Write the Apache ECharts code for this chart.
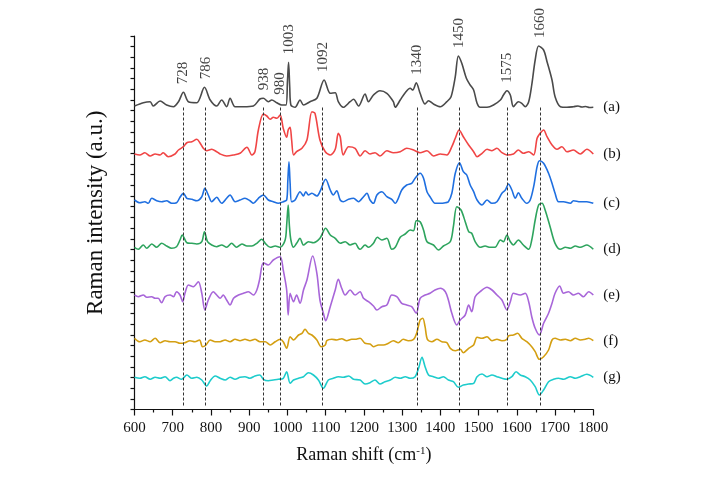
<!DOCTYPE html>
<html>
<head>
<meta charset="utf-8">
<script src="https://cdn.jsdelivr.net/npm/echarts@6/dist/echarts.min.js"></script>
<style>
html, body { margin: 0; padding: 0; background: #fff; }
#chart { width: 718px; height: 486px; }
</style>
</head>
<body>
<div id="chart"></div>
<script>
// Raman shift (cm-1) / intensity pairs, each spectrum relative to its own baseline
var specA = [[600,1],[623,4.3],[641,5.3],[649,1],[667,6],[684,2],[702,0.3],[715,5.3],[728,14.7],[741,5.3],[763,4.3],[783,19.7],[798,7],[815,1],[828,7],[841,0.3],[850,8.7],[863,0.3],[885,0.3],[911,1],[928,8],[937,8.7],[950,5.3],[959,7],[972,4.3],[985,2],[996,2],[1000,25],[1003,44.7],[1006,20],[1009,2],[1020,-0.3],[1033,7],[1042,2],[1059,5.3],[1077,8.7],[1096,27],[1112,13.7],[1125,14.3],[1133,5.3],[1146,-0.3],[1164,5.3],[1173,7.7],[1186,1],[1203,13],[1212,5.3],[1225,12],[1242,16.3],[1260,13.7],[1277,5.3],[1282,-0.3],[1295,7],[1308,14.3],[1321,18.7],[1328,17],[1337,24.3],[1347,13.7],[1360,3],[1369,6.3],[1382,3],[1400,0.3],[1417,5.3],[1428,10.3],[1439,30.3],[1447,51],[1456,43.7],[1468,28.7],[1478,22],[1487,17],[1496,3.7],[1504,-0.3],[1522,-0.3],[1539,2],[1557,7],[1565,12],[1574,16.3],[1583,12],[1591,0.3],[1604,5.3],[1613,3.7],[1622,0.3],[1631,5.3],[1639,22],[1648,47],[1657,61],[1670,57],[1679,45.3],[1692,27],[1700,10.3],[1714,0.3],[1731,-0.3],[1748,0.3],[1760,1],[1770,0],[1780,0.5],[1790,-0.5],[1800,-0.3]];
var specB = [[600,1],[614,0],[627,2.3],[641,-1],[654,1],[667,0],[675,2.3],[688,-1.7],[706,1],[715,5],[728,8.3],[737,12.3],[750,13.3],[763,15.7],[771,12.3],[780,6.7],[789,4.3],[802,5.7],[815,3.3],[824,1],[841,-1],[859,0],[876,1.7],[894,7.7],[907,0],[915,3.3],[924,25],[937,41],[946,39],[955,35.7],[963,37.7],[972,36.7],[981,40],[989,26.7],[998,17.7],[1002,25],[1007,27.7],[1011,15],[1016,0],[1024,3.3],[1038,6.7],[1051,15],[1064,43.3],[1072,41.7],[1085,15],[1099,3.3],[1112,0],[1125,5.7],[1133,21.7],[1138,18.3],[1146,0],[1160,8.3],[1177,6.7],[1190,-1],[1203,4.3],[1216,1],[1229,2.3],[1242,-1],[1260,4.3],[1277,2.3],[1295,3.3],[1312,6.7],[1330,5],[1347,2.3],[1365,4.3],[1382,-1],[1400,1],[1417,0],[1430,8.3],[1439,16.7],[1449,25],[1460,18.3],[1474,10],[1487,3.3],[1496,-1.7],[1509,1.7],[1522,5.7],[1535,4.3],[1548,6.7],[1561,2.3],[1574,0],[1591,1],[1604,5],[1617,1.7],[1631,3.3],[1644,0],[1653,16.7],[1661,21.7],[1670,25],[1679,18.3],[1692,10],[1705,5.7],[1718,8.3],[1731,3.3],[1748,5],[1766,1],[1783,5.7],[1800,1]];
var specC = [[600,1],[614,-1.7],[627,-0.7],[636,-2.3],[645,2.7],[658,0.3],[671,-0.7],[684,0.3],[697,-2.3],[710,-1.7],[719,3.7],[728,7.7],[737,2.7],[750,1.7],[763,0.3],[776,4.3],[784,12.7],[793,6],[802,-0.7],[815,3.7],[828,-2.3],[841,2.7],[850,6],[863,-0.7],[876,1],[889,2.7],[902,0.3],[911,-2.3],[924,2.7],[937,6],[950,1],[963,-0.7],[976,-2.3],[989,-0.7],[998,1],[1001,20],[1004,39.3],[1007,18],[1011,-0.7],[1020,1],[1033,9.3],[1042,5],[1048,9.3],[1055,6],[1064,7.7],[1077,5],[1085,9.3],[1100,21.7],[1112,11],[1120,6],[1129,10.3],[1138,1],[1146,-0.7],[1160,1.7],[1173,2.7],[1186,-0.7],[1199,4.3],[1208,7.7],[1216,1],[1225,-2.3],[1234,6],[1247,9.3],[1260,4.3],[1273,1.7],[1282,-2.3],[1290,2.7],[1299,11],[1312,16],[1325,17.7],[1334,22.7],[1347,27.7],[1356,22.7],[1365,9.3],[1373,4.3],[1386,-2.3],[1400,-2.3],[1413,-1.7],[1421,-0.7],[1430,7.7],[1439,27.7],[1450,38.3],[1460,29.3],[1469,26],[1478,16],[1487,9.3],[1496,1],[1509,-4],[1522,1],[1535,-2.3],[1548,-0.7],[1561,7.7],[1570,11],[1578,17],[1587,11],[1596,2.7],[1604,8.3],[1613,2.7],[1626,-2.3],[1635,1],[1644,14.3],[1653,34.3],[1659,40.3],[1670,37.7],[1683,27.7],[1692,17.7],[1700,7.7],[1709,-0.7],[1722,-0.7],[1740,-2.3],[1748,0.3],[1766,-0.7],[1783,-0.7],[1800,-2.3]];
var specD = [[600,-0.3],[610,-2.3],[623,2],[632,-1.3],[645,3],[658,-0.3],[671,3.7],[684,1],[697,-1.3],[710,0.3],[719,7],[725,12],[737,4.3],[750,3.7],[763,3],[776,5.3],[783,15.3],[791,5.3],[802,2],[815,0.3],[828,2],[841,-0.3],[854,3.7],[867,-0.3],[881,3],[894,1],[907,1],[920,3.7],[933,7.7],[942,3.7],[955,-0.3],[968,1],[981,-0.3],[994,7],[998,22],[1002,42],[1005,22],[1009,7],[1016,-0.3],[1024,3.7],[1033,8.7],[1042,2],[1055,5.3],[1068,4.3],[1085,8.7],[1100,18.7],[1112,12],[1125,8.7],[1138,3.7],[1151,5.3],[1164,2],[1177,3.7],[1186,-1.3],[1190,-2.3],[1203,2],[1212,-0.3],[1225,3.7],[1235,9.7],[1247,7],[1260,8.7],[1273,-2.3],[1282,-0.3],[1295,9.7],[1308,13],[1321,17],[1330,16.3],[1337,26.3],[1347,25.3],[1356,17],[1365,5.3],[1382,2],[1395,-3],[1408,1],[1426,5.3],[1434,20.3],[1443,40.3],[1454,37],[1465,25.3],[1474,15.3],[1482,13.7],[1491,5.3],[1504,-0.3],[1517,1],[1530,-0.3],[1543,-0.3],[1557,7],[1565,5.3],[1574,12],[1583,5.3],[1591,2],[1604,7],[1617,2],[1631,-2.3],[1639,7],[1648,27],[1657,42],[1666,43.7],[1674,37],[1687,20.3],[1700,3.7],[1714,-2.3],[1727,-0.3],[1740,-1.3],[1753,1],[1766,-0.3],[1783,2],[1800,-2.3]];
var specE = [[600,2],[610,0.3],[623,2],[632,-0.3],[645,0.3],[654,-1.3],[662,-1.3],[671,-5.7],[680,0.3],[693,2],[702,0.3],[710,5.3],[719,2],[726,-4.7],[732,3.7],[741,12],[754,10.3],[767,15.3],[776,3.7],[784,-13],[793,-3],[806,5.3],[815,2],[824,-1.3],[832,2],[841,-3],[850,-8],[859,-1.3],[872,2],[885,3.7],[898,5.3],[911,2],[920,7],[927,17],[937,34.3],[950,32],[963,37],[981,40.3],[989,27],[998,7],[1002,-18],[1007,3.7],[1016,-4.7],[1024,2],[1033,-6.3],[1042,7],[1051,17],[1066,41],[1077,23.7],[1085,-3],[1094,-16.3],[1100,-23.7],[1112,-9.7],[1125,7],[1133,17.7],[1142,8.7],[1151,2],[1164,7],[1177,2],[1190,5.3],[1199,-1.3],[1212,-4.7],[1225,-9],[1234,-13],[1247,-9.7],[1260,-8],[1273,2],[1286,0.3],[1299,-6.3],[1312,-8],[1325,-9.7],[1337,-16.3],[1347,-1.3],[1360,2],[1373,3.7],[1386,7],[1400,8.7],[1413,5.3],[1421,-3],[1430,-16.3],[1443,-28],[1452,-23],[1465,-18],[1474,-8],[1482,-14.7],[1491,0.3],[1504,5.3],[1522,9.7],[1535,7],[1548,2],[1561,-3],[1574,-13],[1583,-4.7],[1591,3.7],[1609,2],[1622,3.7],[1631,-4.7],[1639,-19.7],[1648,-31.3],[1659,-38],[1670,-26.3],[1683,-16.3],[1692,-6.3],[1700,3.7],[1712,11],[1722,3.7],[1735,5.3],[1748,2],[1761,3.7],[1774,0.3],[1788,5.3],[1800,2]];
var specF = [[600,2.7],[614,-0.7],[627,1],[641,-0.7],[654,2.7],[667,-1.7],[680,0.3],[693,-0.7],[706,-0.7],[719,-2.3],[732,-1.7],[745,0.3],[758,-0.7],[770,1],[778,-5.7],[787,-4],[798,1],[811,-0.7],[824,-0.7],[837,1],[850,-0.7],[863,1.7],[876,0.3],[889,1.7],[902,0.3],[915,1.7],[928,-0.7],[942,-0.7],[955,-4],[968,-0.7],[981,1.7],[989,-0.7],[998,-7.3],[1007,4.3],[1016,1],[1029,6],[1038,7.7],[1046,11.7],[1055,7.7],[1064,6],[1077,1],[1088,-5.7],[1099,-4],[1103,0.3],[1116,1.7],[1129,1],[1142,2.3],[1155,0.3],[1168,1.7],[1177,1.7],[1190,2.7],[1203,-2.3],[1216,-3],[1225,-5.7],[1238,-4],[1251,-4],[1264,-2.3],[1277,0.3],[1290,-1.7],[1303,1.7],[1316,0.3],[1330,1.7],[1338,7.7],[1347,21],[1354,22.7],[1360,14.3],[1366,1.7],[1378,-0.7],[1391,1.7],[1404,-0.7],[1417,-1.7],[1426,-7.3],[1439,-9.7],[1452,-8.3],[1460,-11.7],[1474,-7.3],[1487,-4],[1496,3.7],[1509,2.7],[1522,4.3],[1535,0.3],[1548,1.7],[1561,0.3],[1574,1.7],[1578,5],[1591,6],[1602,7.7],[1613,2.7],[1626,-0.7],[1639,-5.7],[1648,-10.7],[1659,-18.3],[1670,-15.7],[1683,-9],[1692,1],[1700,2.7],[1714,1],[1727,1.7],[1740,0.3],[1753,2.7],[1766,1],[1779,1.7],[1788,2.7],[1800,0.3]];
var specG = [[600,0.7],[614,-0.3],[627,1.3],[641,-1.3],[654,0.7],[667,-0.3],[680,1.3],[693,-2.7],[702,-0.3],[710,0.7],[723,-1.3],[737,3],[750,-0.3],[763,0.7],[776,-2],[789,-8],[798,-2.7],[811,2],[824,-0.3],[837,-2],[850,0.7],[863,-1.3],[876,0.7],[889,1.3],[902,-0.3],[915,2],[928,3],[937,-1.3],[950,-2.7],[963,-2],[976,-1.3],[989,-0.3],[998,6.3],[1007,-5.3],[1016,-2],[1029,-0.3],[1042,1.3],[1055,5.3],[1068,3],[1081,-2],[1094,-10.3],[1107,-2],[1120,-0.3],[1133,1.3],[1146,0.7],[1160,2],[1173,-1.3],[1190,-2],[1203,-6],[1216,-4.7],[1229,-2],[1242,-6],[1255,-3.7],[1269,-2],[1282,0.7],[1295,-0.3],[1308,1.3],[1321,-0.3],[1334,1.3],[1343,9.7],[1352,20.7],[1360,11.3],[1369,3],[1382,1.3],[1395,-0.3],[1408,1.3],[1421,-2],[1434,-3.7],[1447,-9.3],[1460,-7],[1474,-6],[1487,-5.3],[1496,1.3],[1509,4],[1522,1.3],[1535,3],[1548,1.3],[1561,-0.3],[1574,-1.3],[1587,1.3],[1598,6.3],[1609,3],[1622,1.3],[1635,-2],[1648,-8.7],[1659,-17],[1670,-12],[1683,-3.7],[1696,-1.3],[1709,-0.3],[1722,-1.3],[1740,1.3],[1753,-0.3],[1766,1.3],[1783,3.7],[1800,0.7]];

var spectra = [specA, specB, specC, specD, specE, specF, specG];
var spectrumNames = ['(a)', '(b)', '(c)', '(d)', '(e)', '(f)', '(g)'];
var offsets = [302.5, 254.5, 208.5, 162.5, 112.5, 68.5, 31.5];
var colors = ['#4a4a4a', '#f04545', '#1f6fe0', '#2ea45e', '#a866d9', '#d49f12', '#1ecccc'];

var peaks = [728, 786, 938, 980, 1003, 1092, 1340, 1450, 1575, 1660];
var dashedPeaks = [728, 786, 938, 980, 1092, 1340, 1450, 1575, 1660];

var serif = '"Liberation Serif", "Times New Roman", serif';
var yMax = 373.5;
var yTicks = 35;

var chart = echarts.init(document.getElementById('chart'));

var series = spectra.map(function (spec, i) {
  return {
    name: spectrumNames[i],
    type: 'line',
    data: spec.map(function (d) { return [d[0], d[1] + offsets[i]]; }),
    showSymbol: false,
    symbol: 'none',
    smooth: 0.3,
    lineStyle: { color: colors[i], width: 1.6 },
    itemStyle: { color: colors[i] },
    z: 3,
    endLabel: {
      show: true,
      formatter: spectrumNames[i],
      distance: 10,
      color: '#111',
      fontFamily: serif,
      fontSize: 15
    }
  };
});

// dashed guide lines under the marked bands
series[0].markLine = {
  silent: true,
  symbol: 'none',
  animation: false,
  lineStyle: { color: '#333', type: [3, 2], width: 1 },
  label: { show: false },
  data: dashedPeaks.map(function (p) {
    return [{ coord: [p, 302] }, { coord: [p, 4] }];
  })
};

// peak labels above spectrum (a)
var peakLabelData = peaks.map(function (p) {
  var top = -100;
  specA.forEach(function (d) {
    if (Math.abs(d[0] - p) <= 8 && d[1] > top) top = d[1];
  });
  return [p, offsets[0] + top + 8];
});

series.push({
  type: 'scatter',
  data: peakLabelData,
  symbolSize: 0,
  silent: true,
  z: 5,
  label: {
    show: true,
    position: [0, 0],
    rotate: 90,
    align: 'left',
    verticalAlign: 'middle',
    color: '#111',
    fontFamily: serif,
    fontSize: 15,
    formatter: function (p) { return peaks[p.dataIndex]; }
  }
});

var option = {
  animation: false,
  backgroundColor: '#fff',
  grid: { left: 134.5, right: 124.7, top: 36, bottom: 76.5, containLabel: false },
  xAxis: {
    type: 'value',
    min: 600,
    max: 1800,
    interval: 100,
    name: 'Raman shift (cm{sup|-1})',
    nameLocation: 'middle',
    nameGap: 36,
    nameTextStyle: {
      color: '#111',
      fontFamily: serif,
      fontSize: 18,
      rich: {
        sup: { fontSize: 11, fontFamily: serif, color: '#111', padding: [0, 0, 8, 0] }
      }
    },
    axisLine: { lineStyle: { color: '#111', width: 1.2 } },
    axisTick: { show: true, inside: false, length: 6, lineStyle: { color: '#111', width: 1.2 } },
    minorTick: { show: true, splitNumber: 2, length: 3, lineStyle: { color: '#111', width: 1.2 } },
    axisLabel: {
      color: '#111', fontFamily: serif, fontSize: 15, margin: 11,
      formatter: function (v) { return String(v); }
    },
    splitLine: { show: false }
  },
  yAxis: {
    type: 'value',
    min: 0,
    max: yMax,
    interval: yMax / yTicks,
    name: 'Raman intensity (a.u.)',
    nameLocation: 'middle',
    nameGap: 27,
    nameTextStyle: { color: '#111', fontFamily: serif, fontSize: 23, padding: [0, 0, 0, 20] },
    axisLine: { show: true, lineStyle: { color: '#111', width: 1.2 } },
    axisTick: { show: true, inside: false, length: 4, lineStyle: { color: '#111', width: 1.2 } },
    axisLabel: { show: false },
    splitLine: { show: false }
  },
  series: series
};

chart.setOption(option);
</script>
</body>
</html>
